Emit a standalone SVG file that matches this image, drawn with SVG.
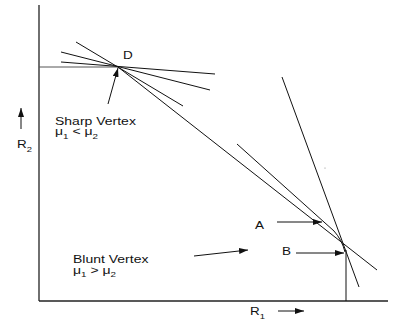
<svg xmlns="http://www.w3.org/2000/svg" width="395" height="320" viewBox="0 0 395 320">
<style>
.ln{stroke:#111;stroke-width:1;fill:none}
.ax{stroke:#222;stroke-width:1.3;fill:none}
.ar{stroke:#111;stroke-width:1;fill:none;marker-end:url(#ah)}
.t{font-family:"Liberation Sans",Arial,sans-serif;font-size:10px;fill:#111}
.s{font-size:7px}
</style>
<defs>
<marker id="ah" markerUnits="userSpaceOnUse" markerWidth="10" markerHeight="6" refX="9" refY="3" orient="auto">
<path d="M0,0 L9,3 L0,6 Z" fill="#111"/>
</marker>
</defs>
<rect width="395" height="320" fill="#fff"/>
<g id="axes">
<line class="ax" x1="39" y1="5" x2="39" y2="301"/>
<line class="ax" x1="39" y1="301" x2="388" y2="301"/>
</g>
<g id="connectors">
<line x1="39" y1="67" x2="118" y2="67" stroke="#555" stroke-width="1"/>
<line class="ln" x1="61" y1="62" x2="215" y2="74"/>
<line class="ln" x1="61" y1="52" x2="210" y2="90"/>
<line class="ln" x1="76" y1="42" x2="183" y2="106"/>
<line class="ln" x1="118" y1="67" x2="377" y2="270"/>
<line class="ln" x1="237" y1="144" x2="334" y2="231"/>
<path class="ln" d="M334,231 Q342,240 345,252"/>
<line class="ln" x1="346" y1="250" x2="346" y2="301"/>
<line class="ln" x1="282" y1="77" x2="359" y2="287"/>
<line class="ar" x1="108" y1="104" x2="118" y2="68"/>
<line class="ar" x1="277" y1="222" x2="322" y2="222"/>
<line class="ar" x1="296" y1="253" x2="344" y2="253"/>
<line class="ar" x1="194" y1="256" x2="248" y2="250"/>
<line class="ar" x1="21" y1="129" x2="21" y2="108"/>
<line class="ar" x1="278" y1="311" x2="304" y2="311"/>
<circle cx="325" cy="168" r="0.6" fill="#888"/>
</g>
<g id="D"><text class="t" transform="translate(123,59) scale(1.35,1)">D</text></g>
<g id="A"><text class="t" transform="translate(255,228.5) scale(1.35,1)">A</text></g>
<g id="B"><text class="t" transform="translate(282,254.5) scale(1.35,1)">B</text></g>
<g id="sharp">
<text class="t" transform="translate(55,124.5) scale(1.4,1)">Sharp Vertex</text>
<text class="t" transform="translate(55,135) scale(1.4,1)">μ<tspan class="s" dy="3.5">1</tspan><tspan dy="-3.5"> &lt; μ</tspan><tspan class="s" dy="3.5">2</tspan></text>
</g>
<g id="blunt">
<text class="t" transform="translate(73,262.7) scale(1.4,1)">Blunt Vertex</text>
<text class="t" transform="translate(73,273.5) scale(1.4,1)">μ<tspan class="s" dy="3.5">1</tspan><tspan dy="-3.5"> &gt; μ</tspan><tspan class="s" dy="3.5">2</tspan></text>
</g>
<g id="R2"><text class="t" transform="translate(17,148.3) scale(1.35,1)">R<tspan class="s" dy="3.5">2</tspan></text></g>
<g id="R1"><text class="t" transform="translate(250,315) scale(1.35,1)">R<tspan class="s" dy="3.5">1</tspan></text></g>
</svg>
